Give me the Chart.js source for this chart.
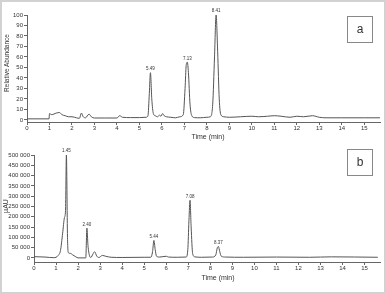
<!DOCTYPE html>
<html>
<head>
<meta charset="utf-8">
<script src="https://cdn.jsdelivr.net/npm/chart.js@4.4.1/dist/chart.umd.min.js"></script>
<style>
  body { margin: 0; background: #fff; }
  #wrap { position: relative; width: 386px; height: 294px; overflow: hidden; background: #fff; }
  canvas { position: absolute; left: 0; }
  .frame { position: absolute; left: 0; top: 0; width: 386px; height: 294px; box-sizing: border-box; border: 2px solid #d2d2d2; pointer-events: none; }
  .txt { position: absolute; font-family: 'Liberation Sans', Arial, sans-serif; color: #333; white-space: nowrap; }
  .rot { transform: translate(-50%, -50%) rotate(-90deg); }
  .ctr { transform: translate(-50%, -50%); }
  .box { position: absolute; width: 26px; height: 27px; box-sizing: border-box; border: 1px solid #888; font-family: 'Liberation Sans', Arial, sans-serif; font-size: 12px; color: #333; text-align: center; line-height: 24px; }
</style>
</head>
<body>
<div id="wrap">
  <canvas id="chartA" width="386" height="140" style="top:0"></canvas>
  <canvas id="chartB" width="386" height="154" style="top:140px"></canvas>
  <div class="txt rot" style="left:6px;top:63px;font-size:6.5px">Relative Abundance</div>
  <div class="txt ctr" style="left:208px;top:136px;font-size:7px">Time (min)</div>
  <div class="txt rot" style="left:5px;top:206px;font-size:7px">µAU</div>
  <div class="txt ctr" style="left:218px;top:277px;font-size:7px">Time (min)</div>
  <div class="box" style="left:347px;top:16px">a</div>
  <div class="box" style="left:347px;top:149px">b</div>
  <div class="frame"></div>
</div>
<script>
// panel a : relative abundance (MS)
const timesA = [0, 0.98, 1.0, 1.1, 1.3, 1.45, 1.55, 1.7, 1.85, 2.0, 2.2, 2.33, 2.42, 2.5, 2.6, 2.76, 2.86, 3.0, 3.5, 4.0, 4.12, 4.25, 4.6, 5.0, 5.3,
  5.38, 5.44, 5.49, 5.55, 5.62, 5.7, 5.8, 5.9, 5.96, 6.03, 6.1, 6.2, 6.4, 6.6, 6.8, 6.95, 7.03, 7.08, 7.13, 7.18, 7.25, 7.33, 7.45, 7.7, 8.0, 8.15,
  8.26, 8.34, 8.41, 8.48, 8.55, 8.62, 8.75, 9.0, 9.5, 10.0, 10.3, 10.7, 11.0, 11.3, 11.7, 12.0, 12.3, 12.7, 13.0, 13.3, 14.0, 15.0, 15.7]
const valuesA = [1, 1, 6, 5, 6.5, 7, 5, 4, 3, 3, 2, 1.5, 6.5, 3, 2, 5.5, 3, 1.8, 1.8, 1.8, 4, 2.5, 2.2, 2.2, 2.5,
  4, 25, 45, 20, 6, 4, 3, 4.5, 3.5, 6, 4, 3, 2.5, 2, 3, 5, 30, 52, 55, 45, 15, 4, 2.2, 2, 2.5, 3,
  15, 60, 100, 65, 20, 5, 3, 2.5, 3, 3.5, 3, 3.5, 4, 3.5, 2.5, 3.5, 3, 4, 2.5, 2, 2, 2, 2]
const peakTimesA = [5.49, 7.13, 8.41]
const yTicksA = [0, 10, 20, 30, 40, 50, 60, 70, 80, 90, 100]

// panel b : UV trace
const timesB = [0, 0.5, 0.9, 1.0, 1.1, 1.2, 1.3, 1.38, 1.43, 1.47, 1.52, 1.56, 1.65, 1.75, 1.9, 2.0, 2.35, 2.4, 2.45, 2.52, 2.58, 2.68, 2.75, 2.85, 2.95, 3.1, 3.25, 3.5, 4.0, 5.0, 5.3,
  5.38, 5.44, 5.5, 5.56, 5.7, 6.0, 6.1, 6.5, 6.9, 6.98, 7.03, 7.08, 7.13, 7.2, 7.3, 7.6, 8.1, 8.25, 8.32, 8.37, 8.43, 8.5, 8.7, 9.5, 11, 12.5, 13.5, 15.6]
const valuesB = [6000, 4000, 1000, 3000, 12000, 35000, 120000, 195000, 230000, 500000, 100000, 25000, 22000, 15000, 5000, 0, 0, 145000, 60000, 10000, 2000, 20000, 30000, 8000, 2000, 12000, 8000, 3000, 2000, 3000, 3000,
  30000, 85000, 40000, 8000, 4000, 8000, 4000, 3000, 4000, 40000, 180000, 280000, 150000, 20000, 5000, 3000, 4000, 15000, 50000, 55000, 30000, 8000, 4000, 3000, 4000, 3000, 5000, 3000]
const peakTimesB = [1.45, 2.40, 5.44, 7.08, 8.37]
const yTicksB = [0, 50000, 100000, 150000, 200000, 250000, 300000, 350000, 400000, 450000, 500000]

const xTicks = [0, 1, 2, 3, 4, 5, 6, 7, 8, 9, 10, 11, 12, 13, 14, 15]

const fontName = "'Liberation Sans', Arial, sans-serif"
const lineColor = '#555'
const axisColor = '#666'

function toPoints(xs, ys) {
    return xs.map((x, i) => ({ x: x, y: ys[i] }))
}

function spaced(v) {
    return String(v).replace(/\B(?=(\d{3})+(?!\d))/g, ' ')
}

// draws the retention time above each peak
const peakLabels = {
    id: 'peakLabels',
    afterDatasetsDraw(chart, args, opts) {
        const ctx = chart.ctx
        const pts = chart.data.datasets[0].data
        ctx.save()
        ctx.font = '4.5px ' + fontName
        ctx.fillStyle = '#333'
        ctx.textAlign = 'center'
        ctx.textBaseline = 'bottom'
        opts.times.forEach((t) => {
            let top = -Infinity
            let at = t
            pts.forEach((p) => { if (Math.abs(p.x - t) < 0.1 && p.y > top) { top = p.y; at = p.x } })
            const px = chart.scales.x.getPixelForValue(at)
            const py = chart.scales.y.getPixelForValue(top)
            ctx.fillText(t.toFixed(2), px, py - 1.5)
        })
        ctx.restore()
    }
}

function makeChart(id, pts, peaks, opt) {
    return new Chart(document.getElementById(id), {
        type: 'line',
        data: {
            datasets: [{
                data: pts,
                borderColor: lineColor,
                borderWidth: 1,
                pointRadius: 0,
                cubicInterpolationMode: 'monotone',
                fill: false
            }]
        },
        options: {
            responsive: false,
            animation: false,
            events: [],
            layout: { padding: { left: 0, right: 6, top: 15, bottom: 0 } },
            plugins: { legend: { display: false }, tooltip: { enabled: false }, peakLabels: { times: peaks } },
            scales: {
                x: {
                    type: 'linear',
                    min: 0,
                    max: opt.xMax,
                    afterBuildTicks: (s) => { s.ticks = xTicks.map((v) => ({ value: v })) },
                    afterFit: (s) => { s.height = opt.xHeight },
                    grid: { drawOnChartArea: false, color: axisColor, tickLength: 3 },
                    border: { color: axisColor, width: 1 },
                    ticks: { maxRotation: 0, autoSkip: false, padding: 0, color: '#333', font: { family: fontName, size: 6 } }
                },
                y: {
                    min: opt.yMin,
                    max: opt.yMax,
                    afterBuildTicks: (s) => { s.ticks = opt.yTicks.map((v) => ({ value: v })) },
                    afterFit: (s) => { s.width = opt.yWidth },
                    grid: { drawOnChartArea: false, color: axisColor, tickLength: 3 },
                    border: { color: axisColor, width: 1 },
                    ticks: { autoSkip: false, padding: 1, color: '#333', font: { family: fontName, size: 6 }, callback: (v) => spaced(v) }
                }
            }
        },
        plugins: [peakLabels]
    })
}

makeChart('chartA', toPoints(timesA, valuesA), peakTimesA, { xMax: 15.7, xHeight: 18, yMin: -2, yMax: 100, yTicks: yTicksA, yWidth: 27 })
makeChart('chartB', toPoints(timesB, valuesB), peakTimesB, { xMax: 15.7, xHeight: 32, yMin: -20000, yMax: 500000, yTicks: yTicksB, yWidth: 34 })
</script>
</body>
</html>
